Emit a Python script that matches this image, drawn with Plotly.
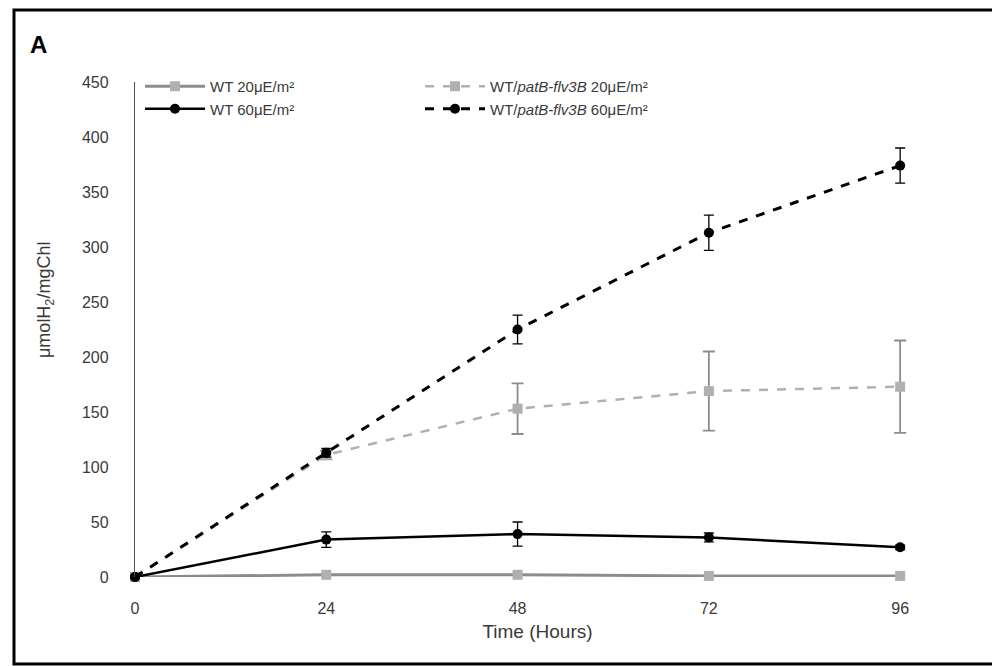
import plotly.graph_objects as go

hours = [0, 24, 48, 72, 96]
wt20 = [0, 2, 2, 1, 1]
flv20 = [0, 111, 153, 169, 173]
flv20_err = [0, 4, 23, 36, 42]
wt60 = [0, 34, 39, 36, 27]
wt60_err = [0, 7, 11, 4, 2]
flv60 = [0, 113, 225, 313, 374]
flv60_err = [0, 4, 13, 16, 16]

x_ticks = [0, 24, 48, 72, 96]
y_ticks = [0, 50, 100, 150, 200, 250, 300, 350, 400, 450]

W, H = 992, 666
L, R, T, B = 135, 52, 82, 89

fig = go.Figure()

fig.add_trace(go.Scatter(
    x=hours, y=wt20, name="WT 20μE/m²", mode="lines+markers",
    line=dict(color="#8c8c8c", width=3),
    marker=dict(symbol="square", size=10, color="#b0b0b0"),
    cliponaxis=False))
fig.add_trace(go.Scatter(
    x=hours, y=flv20, name="WT/<i>patB-flv3B</i> 20μE/m²", mode="lines+markers",
    line=dict(color="#b0b0b0", width=2.5, dash="dash"),
    marker=dict(symbol="square", size=10, color="#b0b0b0"),
    error_y=dict(type="data", array=flv20_err, color="#8c8c8c", thickness=1.8, width=6),
    cliponaxis=False))
fig.add_trace(go.Scatter(
    x=hours, y=wt60, name="WT 60μE/m²", mode="lines+markers",
    line=dict(color="#000000", width=2.5),
    marker=dict(symbol="circle", size=10, color="#000000"),
    error_y=dict(type="data", array=wt60_err, color="#000000", thickness=1.3, width=5),
    cliponaxis=False))
fig.add_trace(go.Scatter(
    x=hours, y=flv60, name="WT/<i>patB-flv3B</i> 60μE/m²", mode="lines+markers",
    line=dict(color="#000000", width=3, dash="dash"),
    marker=dict(symbol="circle", size=10, color="#000000"),
    error_y=dict(type="data", array=flv60_err, color="#000000", thickness=1.3, width=5),
    cliponaxis=False))

def px_x(p):
    return (p - L) / (W - L - R)

def px_y(p):
    return (H - B - p) / (H - T - B)

fig.update_layout(
    width=W, height=H,
    margin=dict(l=L, r=R, t=T, b=B),
    paper_bgcolor="white", plot_bgcolor="white",
    font=dict(family="Liberation Sans, Arial, sans-serif", color="#3a3a3a"),
    showlegend=True,
    legend=dict(
        orientation="h", x=px_x(140), y=px_y(70), xanchor="left", yanchor="top",
        bgcolor="rgba(0,0,0,0)", font=dict(size=15, color="#3a3a3a"),
        entrywidth=205, entrywidthmode="pixels", itemwidth=60,
        tracegroupgap=0, traceorder="normal"),
    xaxis=dict(
        range=[0, 101], tickvals=x_ticks, ticktext=[str(v) for v in x_ticks],
        showgrid=False, zeroline=False, showline=False, ticks="",
        tickfont=dict(size=16, color="#3a3a3a"), ticklabelstandoff=20,
        title=dict(text="Time (Hours)", font=dict(size=19, color="#3a3a3a"), standoff=8)),
    yaxis=dict(
        range=[0, 450], tickvals=y_ticks, ticktext=[str(v) for v in y_ticks],
        showgrid=False, zeroline=False, showline=True, linecolor="#555555", linewidth=1.3,
        ticks="", tickfont=dict(size=16, color="#3a3a3a"), ticklabelstandoff=22),
    shapes=[dict(type="rect", xref="paper", yref="paper",
                 x0=px_x(14), x1=px_x(996), y0=px_y(664), y1=px_y(10),
                 line=dict(color="black", width=3), fillcolor="rgba(0,0,0,0)")],
    annotations=[
        dict(text="<b>A</b>", xref="paper", yref="paper", x=px_x(38), y=px_y(45),
             xanchor="center", yanchor="middle", showarrow=False,
             font=dict(size=24, color="black")),
        dict(text="μmolH<sub>2</sub>/mgChl", xref="paper", yref="paper",
             x=px_x(45), y=px_y(300), xanchor="center", yanchor="middle",
             textangle=-90, showarrow=False, font=dict(size=18, color="#3a3a3a")),
    ],
)

fig.write_html("out.html")
